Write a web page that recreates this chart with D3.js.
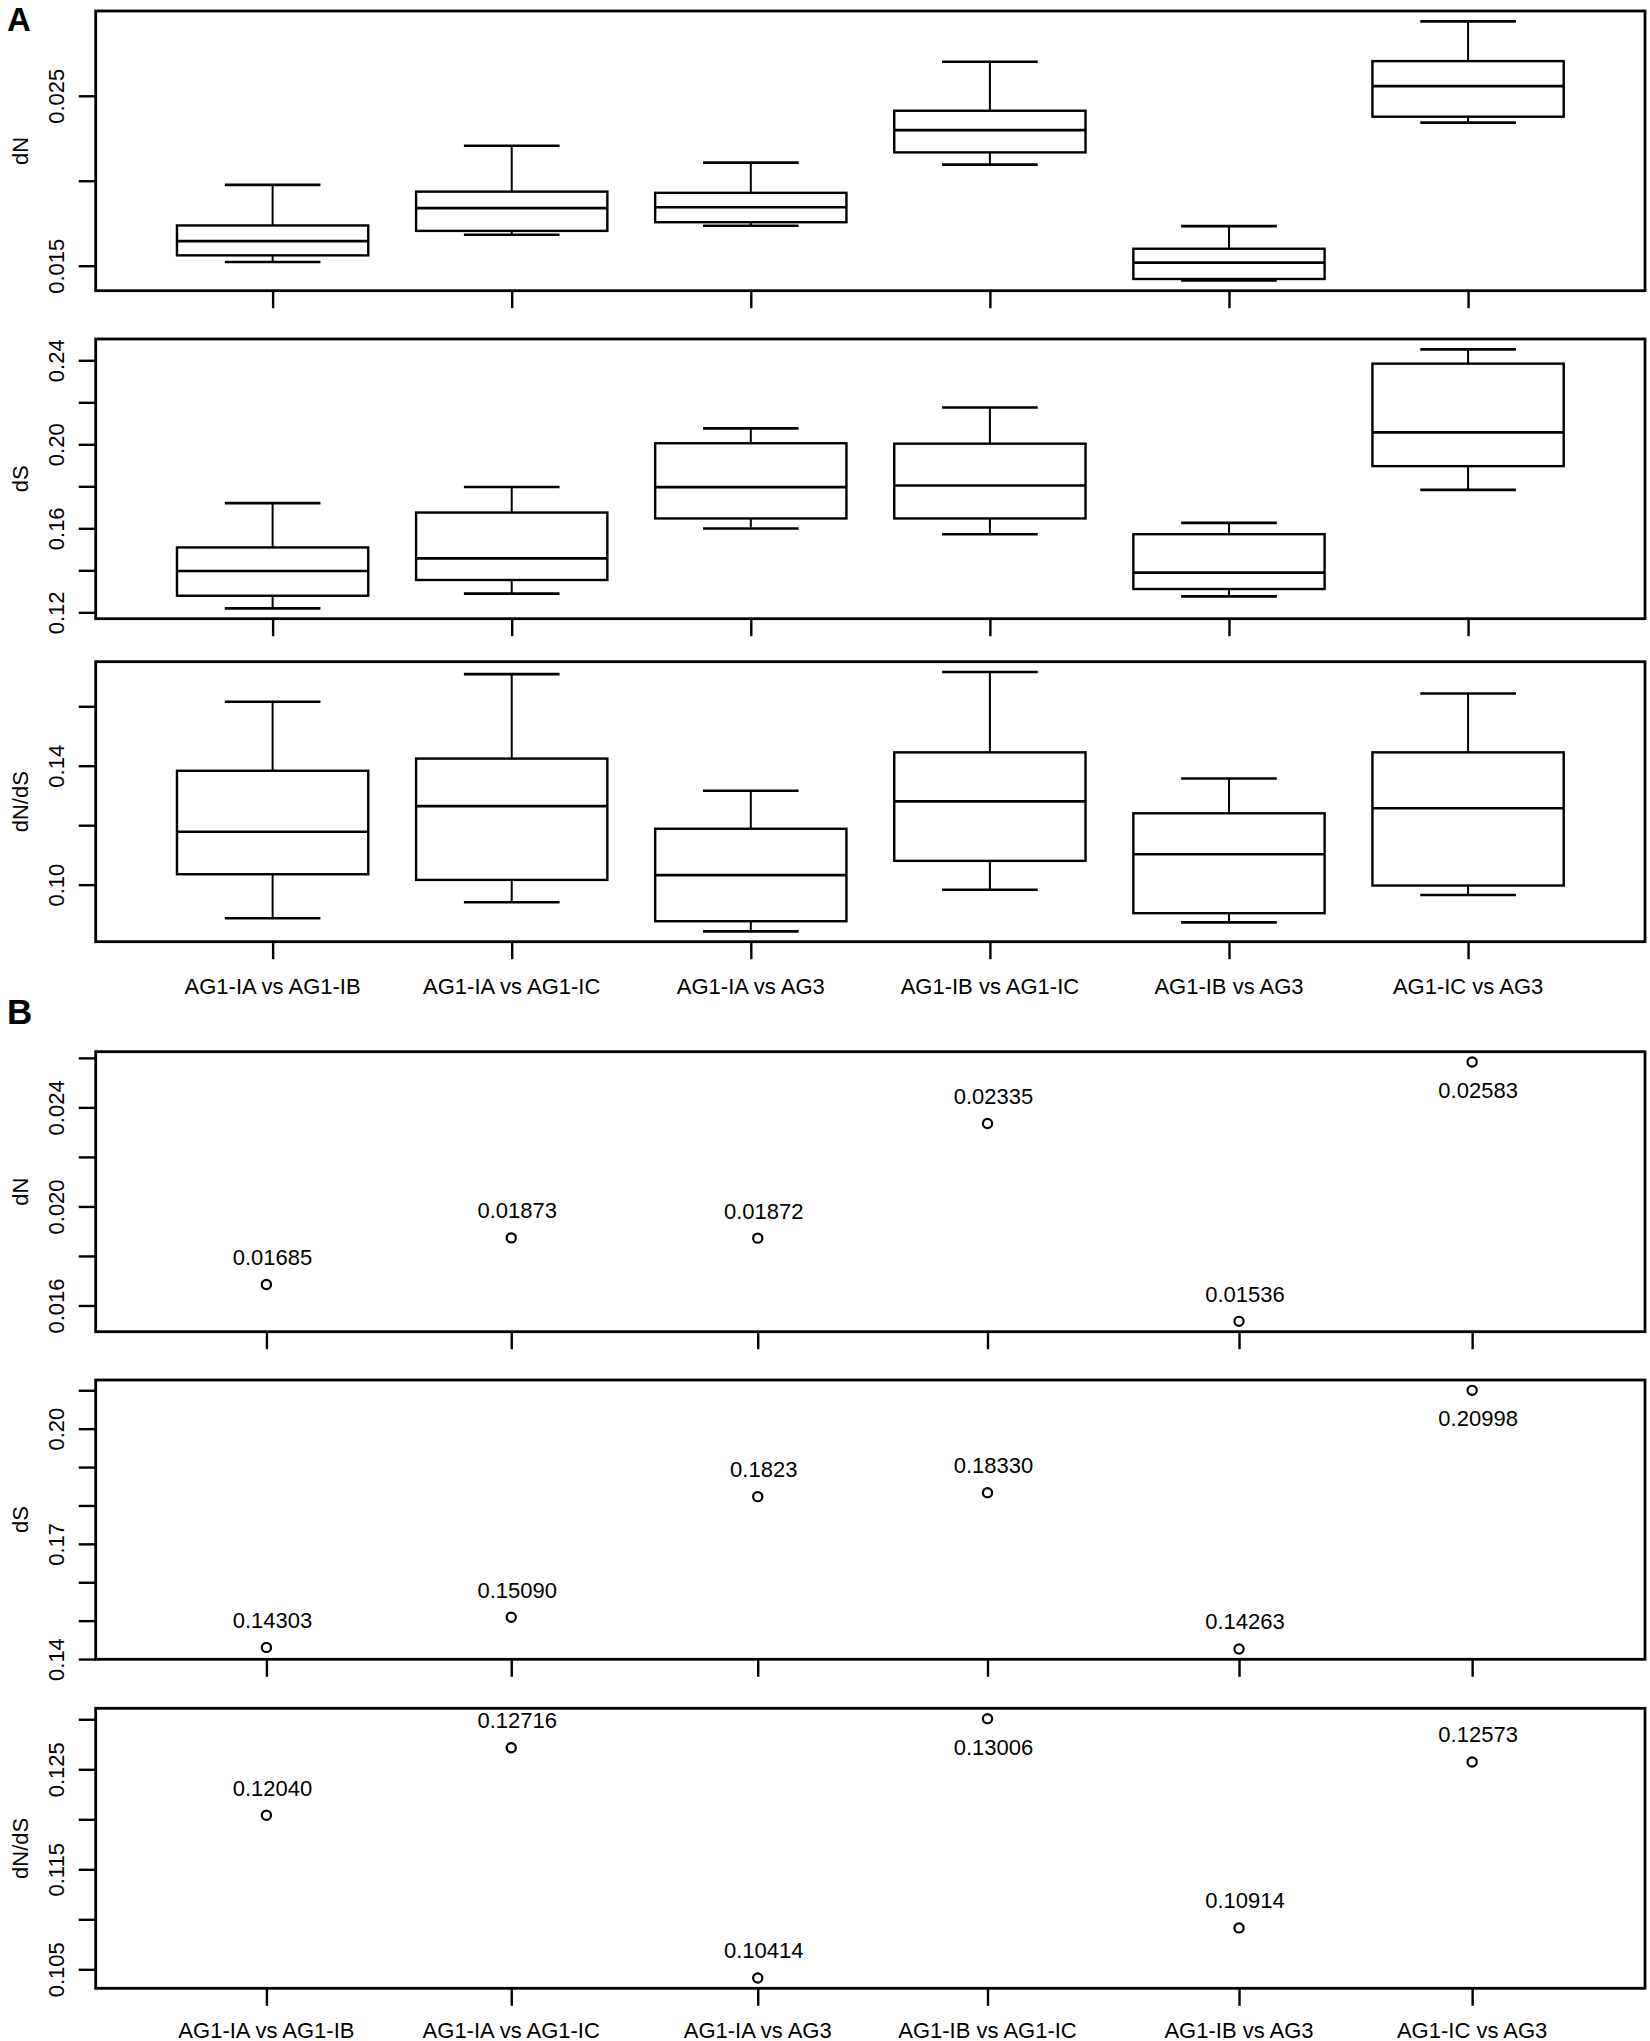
<!DOCTYPE html>
<html><head><meta charset="utf-8">
<script src="https://cdnjs.cloudflare.com/ajax/libs/d3/7.8.5/d3.min.js"></script>
<style>
body{margin:0;background:#fff}
svg{display:block}
text{font-family:"Liberation Sans",Arial,Helvetica,sans-serif;fill:#000}
</style>
</head><body>
<svg id="c" width="1650" height="2041"></svg>
<script>
// ---------- DATA ----------
const categories = ["AG1-IA vs AG1-IB","AG1-IA vs AG1-IC","AG1-IA vs AG3","AG1-IB vs AG1-IC","AG1-IB vs AG3","AG1-IC vs AG3"];

// Panel A boxplots: [lower whisker, Q1, median, Q3, upper whisker]
const boxDN = [
  [0.01522,0.01561,0.01645,0.01737,0.01976],
  [0.01682,0.01705,0.01839,0.01936,0.02206],
  [0.01735,0.01756,0.01844,0.01929,0.02107],
  [0.02095,0.02167,0.02298,0.02412,0.02700],
  [0.01414,0.01422,0.01518,0.01600,0.01733],
  [0.02342,0.02377,0.02557,0.02704,0.02938]
];
const boxDS = [
  [0.1219,0.1279,0.1397,0.1509,0.1720],
  [0.1289,0.1354,0.1457,0.1675,0.1797],
  [0.1599,0.1647,0.1796,0.2005,0.2076],
  [0.1572,0.1647,0.1804,0.2003,0.2175],
  [0.1276,0.1311,0.1389,0.1572,0.1626],
  [0.1783,0.1896,0.2057,0.2384,0.2452]
];
const boxDNDS = [
  [0.0887,0.1035,0.1178,0.1383,0.1615],
  [0.0941,0.1016,0.1264,0.1424,0.1708],
  [0.0843,0.0877,0.1032,0.1188,0.1316],
  [0.0983,0.1080,0.1280,0.1445,0.1715],
  [0.0873,0.0904,0.1102,0.1240,0.1357],
  [0.0965,0.0997,0.1257,0.1445,0.1643]
];

// Panel B point values and their printed labels
const pairDN = [0.01685,0.01873,0.01872,0.02335,0.01536,0.02583];
const pairDNLabels = ["0.01685","0.01873","0.01872","0.02335","0.01536","0.02583"];
const pairDNSide = ["above","above","above","above","above","below"];
const pairDS = [0.14303,0.15090,0.1823,0.18330,0.14263,0.20998];
const pairDSLabels = ["0.14303","0.15090","0.1823","0.18330","0.14263","0.20998"];
const pairDSSide = ["above","above","above","above","above","below"];
const pairDNDS = [0.12040,0.12716,0.10414,0.13006,0.10914,0.12573];
const pairDNDSLabels = ["0.12040","0.12716","0.10414","0.13006","0.10914","0.12573"];
const pairDNDSSide = ["above","above","above","below","above","above"];
// x position (category units) of each point in panel B
const pairX = [0.974,1.998,3.029,3.990,5.042,6.017];

// Tick values and labels
const aDNTicks = [0.015,0.020,0.025];
const aDNTickLabels = ["0.015","","0.025"];
const aDSTicks = [0.12,0.14,0.16,0.18,0.20,0.22,0.24];
const aDSTickLabels = ["0.12","","0.16","","0.20","","0.24"];
const aDNDSTicks = [0.10,0.12,0.14,0.16];
const aDNDSTickLabels = ["0.10","","0.14",""];
const bDNTicks = [0.016,0.018,0.020,0.022,0.024,0.026];
const bDNTickLabels = ["0.016","","0.020","","0.024",""];
const bDSTicks = [0.14,0.15,0.16,0.17,0.18,0.19,0.20,0.21];
const bDSTickLabels = ["0.14","","","0.17","","","0.20",""];
const bDNDSTicks = [0.105,0.110,0.115,0.120,0.125,0.130];
const bDNDSTickLabels = ["0.105","","0.115","","0.125",""];

// ---------- DRAW ----------
const svg = d3.select("#c");
const FS = 22;
const LEFT = 95.7, RIGHT = 1645;
const n = categories.length;
const x = d3.scaleLinear()
  .domain([0.5 - 0.04*n, n + 0.5 + 0.04*n])
  .range([LEFT, RIGHT]);
const catPos = categories.map((c,i)=>i+1);

function extScale(vals, top, bottom){
  const [mn,mx] = d3.extent(vals);
  const r = mx - mn;
  return d3.scaleLinear().domain([mn - 0.04*r, mx + 0.04*r]).range([bottom, top]);
}

function yAxis(g, y, ticks, labels){
  const ax = d3.axisLeft(y).tickValues(ticks).tickSize(17).tickPadding(0)
    .tickFormat((d,i)=>labels[i]);
  const a = g.append("g").attr("transform",`translate(${LEFT},0)`).call(ax);
  a.attr("font-family",null).attr("font-size",null);
  a.select(".domain").remove();
  a.selectAll("line").attr("stroke","#000").attr("stroke-width",2.4);
  a.selectAll("text")
    .attr("transform","rotate(-90)")
    .attr("x",0).attr("y",-32).attr("dy",null)
    .attr("text-anchor","middle")
    .style("font-size",FS+"px");
}

function xAxis(g, positions, bottom){
  const ax = d3.axisBottom(x).tickValues(positions).tickSize(17.5).tickFormat("");
  const a = g.append("g").attr("transform",`translate(0,${bottom})`).call(ax);
  a.select(".domain").remove();
  a.selectAll("line").attr("stroke","#000").attr("stroke-width",2.4);
}

function frame(g, top, bottom, title){
  g.append("rect").attr("x",LEFT).attr("y",top)
    .attr("width",RIGHT-LEFT).attr("height",bottom-top)
    .attr("fill","none").attr("stroke","#000").attr("stroke-width",2.8);
  g.append("text").attr("transform",`translate(27.5,${(top+bottom)/2}) rotate(-90)`)
    .attr("text-anchor","middle").style("font-size",FS+"px").text(title);
}

function boxPanel(stats, top, bottom, title, ticks, labels){
  const g = svg.append("g");
  const y = extScale(stats.flat(), top, bottom);
  stats.forEach((s,i)=>{
    const c = catPos[i];
    const [lo,q1,md,q3,hi] = s;
    g.append("line").attr("x1",x(c)).attr("x2",x(c)).attr("y1",y(q3)).attr("y2",y(hi))
      .attr("stroke","#000").attr("stroke-width",2);
    g.append("line").attr("x1",x(c)).attr("x2",x(c)).attr("y1",y(q1)).attr("y2",y(lo))
      .attr("stroke","#000").attr("stroke-width",2);
    [hi,lo].forEach(v=>{
      g.append("line").attr("x1",x(c-0.2)).attr("x2",x(c+0.2)).attr("y1",y(v)).attr("y2",y(v))
        .attr("stroke","#000").attr("stroke-width",2.6);
    });
    g.append("rect").attr("x",x(c-0.4)).attr("y",y(q3))
      .attr("width",x(c+0.4)-x(c-0.4)).attr("height",y(q1)-y(q3))
      .attr("fill","#fff").attr("stroke","#000").attr("stroke-width",2.4);
    g.append("line").attr("x1",x(c-0.4)).attr("x2",x(c+0.4)).attr("y1",y(md)).attr("y2",y(md))
      .attr("stroke","#000").attr("stroke-width",2.6);
  });
  frame(g, top, bottom, title);
  yAxis(g, y, ticks, labels);
  xAxis(g, catPos, bottom);
  return g;
}

function pointPanel(vals, labs, sides, top, bottom, title, ticks, labels){
  const g = svg.append("g");
  const y = extScale(vals, top, bottom);
  vals.forEach((v,i)=>{
    g.append("circle").attr("cx",x(pairX[i])).attr("cy",y(v)).attr("r",4.6)
      .attr("fill","none").attr("stroke","#000").attr("stroke-width",2.2);
    const ly = sides[i]==="above" ? y(v) - 19.5 : y(v) + 36;
    g.append("text").attr("x",x(pairX[i])+6).attr("y",ly)
      .attr("text-anchor","middle").style("font-size",FS+"px").text(labs[i]);
  });
  frame(g, top, bottom, title);
  yAxis(g, y, ticks, labels);
  xAxis(g, pairX, bottom);
  return g;
}

function catLabels(positions, baseline){
  svg.append("g").selectAll("text").data(categories).join("text")
    .attr("x",(d,i)=>x(positions[i])).attr("y",baseline)
    .attr("text-anchor","middle").style("font-size",FS+"px").text(d=>d);
}

// Figure A
svg.append("text").attr("x",7).attr("y",31).style("font-size","33px").style("font-weight","bold").text("A");
boxPanel(boxDN, 11, 290.7, "dN", aDNTicks, aDNTickLabels);
boxPanel(boxDS, 339, 618.7, "dS", aDSTicks, aDSTickLabels);
boxPanel(boxDNDS, 661.7, 941.7, "dN/dS", aDNDSTicks, aDNDSTickLabels);
catLabels(catPos, 994);

// Figure B
svg.append("text").attr("x",7).attr("y",1024).style("font-size","35px").style("font-weight","bold").text("B");
pointPanel(pairDN, pairDNLabels, pairDNSide, 1051.7, 1331.7, "dN", bDNTicks, bDNTickLabels);
pointPanel(pairDS, pairDSLabels, pairDSSide, 1380, 1659.3, "dS", bDSTicks, bDSTickLabels);
pointPanel(pairDNDS, pairDNDSLabels, pairDNDSSide, 1708.3, 1988.3, "dN/dS", bDNDSTicks, bDNDSTickLabels);
catLabels(pairX, 2037.5);
</script>
</body></html>
